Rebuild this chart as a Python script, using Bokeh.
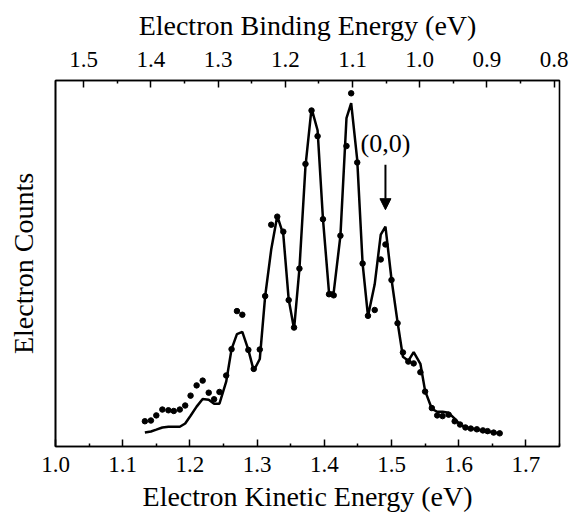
from bokeh.plotting import figure
from bokeh.models import (Range1d, LinearAxis, FixedTicker, Arrow, NormalHead, Label,
                          NumeralTickFormatter)
from bokeh.embed import file_html
from bokeh.resources import INLINE

# Measured spectrum (dots) and simulation (line), kinetic energy in eV
ke = [1.133, 1.142, 1.150, 1.159, 1.168, 1.176, 1.185, 1.193, 1.201, 1.210,
      1.219, 1.228, 1.236, 1.244, 1.254, 1.262, 1.270, 1.278, 1.287, 1.295,
      1.304, 1.312, 1.321, 1.330, 1.339, 1.347, 1.355, 1.363, 1.372, 1.381,
      1.390, 1.398, 1.407, 1.414, 1.424, 1.433, 1.440, 1.449, 1.457, 1.465,
      1.475, 1.484, 1.491, 1.500, 1.509, 1.517, 1.525, 1.533, 1.543, 1.550,
      1.560, 1.568, 1.576, 1.585, 1.594, 1.602, 1.610, 1.618, 1.627, 1.636,
      1.643, 1.652, 1.661]
counts_exp = [6.9, 7.1, 8.5, 10.1, 9.9, 9.7, 10.1, 11.2, 13.9, 16.7,
              18.0, 14.7, 12.9, 14.9, 19.4, 26.6, 37.0, 36.0, 26.4, 21.2,
              26.5, 41.1, 60.6, 62.8, 58.7, 40.0, 32.5, 48.6, 77.2, 91.8,
              84.8, 62.1, 41.6, 41.3, 57.6, 82.1, 96.5, 77.6, 50.0, 35.7,
              37.3, 51.1, 55.2, 45.5, 33.7, 25.7, 23.2, 22.7, 20.3, 15.0,
              10.5, 8.5, 8.3, 8.7, 6.9, 6.0, 5.2, 4.9, 4.7, 4.4,
              4.2, 3.8, 3.6]
counts_sim = [3.8, 4.1, 4.6, 5.2, 5.4, 5.4, 5.4, 6.3, 8.4, 10.9,
              13.0, 12.8, 11.7, 11.7, 17.7, 26.6, 30.7, 31.3, 26.4, 20.7,
              23.9, 41.1, 53.8, 63.0, 57.9, 40.2, 32.1, 48.6, 76.6, 92.4,
              86.4, 62.2, 42.1, 42.1, 57.6, 89.7, 93.8, 78.3, 50.0, 35.6,
              44.3, 57.9, 60.1, 45.7, 34.0, 24.5, 23.4, 25.8, 22.6, 15.2,
              10.3, 9.5, 9.5, 9.2, 7.6, 6.0, 5.2, 4.9, 4.6, 4.3,
              4.1, 3.8, 3.5]

# Axis ticks
ke_major = [1.0, 1.1, 1.2, 1.3, 1.4, 1.5, 1.6, 1.7]
ke_minor = [1.05, 1.15, 1.25, 1.35, 1.45, 1.55, 1.65, 1.75]
be_major = [1.5, 1.4, 1.3, 1.2, 1.1, 1.0, 0.9, 0.8]
be_minor = [1.45, 1.35, 1.25, 1.15, 1.05, 0.95, 0.85]
be_offset = 2.542  # binding energy = be_offset - kinetic energy

# Annotation for the (0,0) origin
origin_ke = 1.491
origin_label_y = 82.9
arrow_tail_y = 77.0
arrow_tip_y = 64.7

FONT = "Liberation Serif"

ke_lo, ke_hi = 1.0, 1.75
p = figure(width=569, height=514, output_backend="svg", toolbar_location=None,
           x_range=Range1d(ke_lo, ke_hi), y_range=Range1d(0, 100),
           min_border_left=55, min_border_right=10, min_border_top=80, min_border_bottom=66,
           x_axis_location=None, y_axis_location=None)
p.background_fill_color = "white"
p.border_fill_color = "white"
p.outline_line_color = "black"
p.outline_line_width = 1.6
p.xgrid.visible = False
p.ygrid.visible = False

# bottom axis
xb = LinearAxis(ticker=FixedTicker(ticks=ke_major, minor_ticks=ke_minor),
                formatter=NumeralTickFormatter(format="0.0"),
                axis_label="Electron Kinetic Energy (eV)")
# top axis
p.extra_x_ranges = {"be": Range1d(be_offset - ke_lo, be_offset - ke_hi)}
xt = LinearAxis(x_range_name="be", ticker=FixedTicker(ticks=be_major, minor_ticks=be_minor),
                formatter=NumeralTickFormatter(format="0.0"),
                axis_label="Electron Binding Energy (eV)")
for ax in (xb, xt):
    ax.axis_line_color = "black"
    ax.axis_line_width = 1.6
    ax.major_tick_in = 7
    ax.major_tick_out = 0
    ax.minor_tick_in = 3
    ax.minor_tick_out = 0
    ax.major_tick_line_width = 1.5
    ax.minor_tick_line_width = 1.5
    ax.major_tick_line_color = "black"
    ax.minor_tick_line_color = "black"
    ax.major_label_text_font = FONT
    ax.major_label_text_font_size = "23px"
    ax.major_label_text_color = "black"
    ax.axis_label_text_font = FONT
    ax.axis_label_text_font_size = "28px"
    ax.axis_label_text_font_style = "normal"
    ax.axis_label_text_color = "black"
xb.major_label_standoff = 10
xb.axis_label_standoff = 6
xt.major_label_standoff = 14
xt.axis_label_standoff = 8
p.add_layout(xb, "below")
p.add_layout(xt, "above")

# left axis: label only
yl = LinearAxis(ticker=FixedTicker(ticks=[]), axis_label="Electron Counts")
yl.axis_line_color = "black"
yl.axis_line_width = 1.6
yl.major_tick_line_color = None
yl.minor_tick_line_color = None
yl.major_label_text_font_size = "0px"
yl.axis_label_text_font = FONT
yl.axis_label_text_font_size = "28px"
yl.axis_label_text_font_style = "normal"
yl.axis_label_text_color = "black"
yl.axis_label_standoff = 17
p.add_layout(yl, "left")

p.line(ke, counts_sim, line_color="black", line_width=2.5)
p.scatter(ke, counts_exp, size=5.5, color="black")

p.add_layout(Arrow(end=NormalHead(size=11, fill_color="black", line_color="black"),
                   x_start=origin_ke, y_start=arrow_tail_y, x_end=origin_ke, y_end=arrow_tip_y,
                   line_color="black", line_width=2))
p.add_layout(Label(x=origin_ke, y=origin_label_y, text="(0,0)", text_align="center",
                   text_baseline="middle", text_font=FONT, text_font_size="26px",
                   text_color="black"))

open("out.html", "w").write(file_html(p, INLINE))
